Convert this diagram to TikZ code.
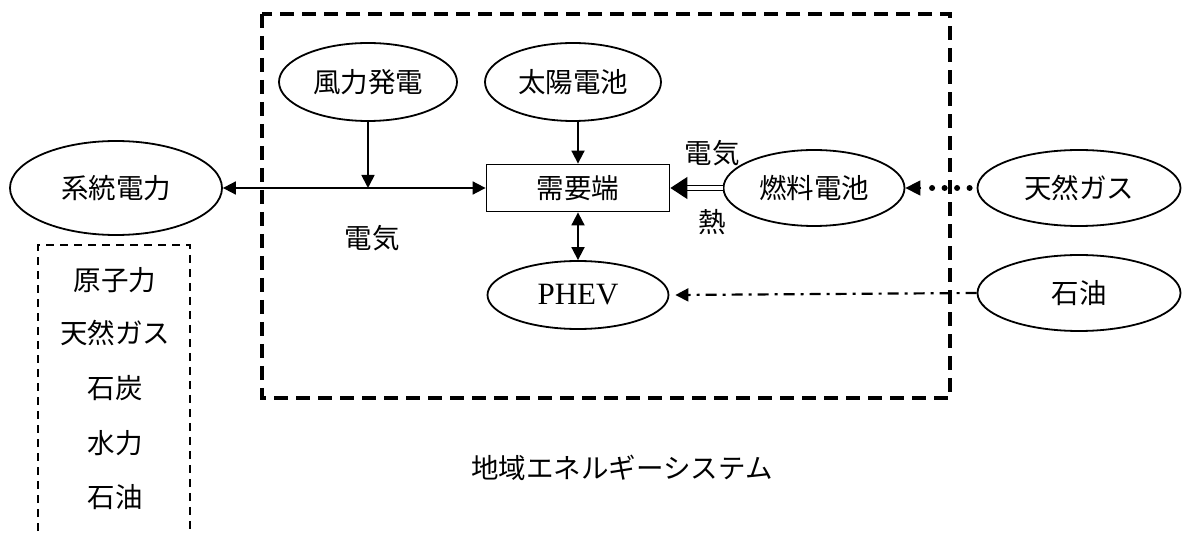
\documentclass[tikz,border=0pt]{standalone}
\usepackage{fontspec}
\setmainfont{Noto Sans CJK JP}
\newfontfamily\latinserif{Liberation Serif}
\usetikzlibrary{arrows.meta,shapes.geometric}
\tikzset{
  oval/.style={ellipse,draw,line width=1.8pt,minimum width=#1,minimum height=76pt,inner sep=0pt},
  oval/.default=176pt,
  conn/.style={line width=1.8pt},
  tip/.style={-{Triangle[length=13pt,width=13pt]}},
  lbl/.style={font=\fontsize{27.5}{30}\selectfont},
}
\begin{document}
\begin{tikzpicture}[x=1pt,y=-1pt,font=\fontsize{27.5}{30}\selectfont]
\useasboundingbox (0,0) rectangle (1192,534);
% region box
\draw[line width=3.8pt,dash pattern=on 14pt off 8pt] (262,14) rectangle (950,398);
% left list box
\draw[line width=2.4pt,dash pattern=on 8pt off 6pt] (38,545) -- (38,245) -- (190,245) -- (190,545);
\node[lbl] (l1) at (115,280) {原子力};
\node[lbl] (l2) at (115,333) {天然ガス};
\node[lbl] (l3) at (115,388) {石炭};
\node[lbl] (l4) at (115,443) {水力};
\node[lbl] (l5) at (115,497) {石油};
% nodes
\node[oval=212pt,minimum height=94pt] (grid) at (116,188) {系統電力};
\node[oval=178pt,minimum height=78pt] (wind) at (368,82) {風力発電};
\node[oval=176pt,minimum height=78pt] (solar) at (573,82) {太陽電池};
\node[draw,line width=1.8pt,minimum width=183pt,minimum height=47pt,inner sep=0pt] (demand) at (578,188) {需要端};
\node[oval=181pt,minimum height=76pt] (fc) at (814,188) {燃料電池};
\node[oval=203pt] (gas) at (1079,188) {天然ガス};
\node[oval=181pt,minimum height=68pt] (phev) at (578,295) {\fontsize{31}{34}\selectfont\latinserif PHEV};
\node[oval=203pt] (oil) at (1079,293) {石油};
% labels
\node[lbl] (e1) at (372,238) {電気};
\node[lbl] (e2) at (712,153) {電気};
\node[lbl] (heat) at (712,222) {熱};
\node[lbl] (reg) at (622,468) {地域エネルギーシステム};
% connectors
\coordinate (j) at (368,188);
\draw[conn,{Triangle[length=13pt,width=13pt]}-{Triangle[length=13pt,width=13pt]}] (grid.east) -- (demand.west);
\draw[conn,tip] (wind.south) -- (j);
\draw[conn,tip] (solar.south -| demand.north) -- (demand.north);
\draw[conn,{Triangle[length=13pt,width=13pt]}-{Triangle[length=13pt,width=13pt]}] (demand.south) -- (phev.north);
\draw[line width=1.3pt,double distance=3.5pt,-{Triangle[length=17pt,width=22pt]}] (fc.west) -- (demand.east);
\draw[line width=6pt,dash pattern=on 0pt off 12.5pt,line cap=round] ([xshift=-7pt]gas.west) -- ([xshift=20pt]fc.east);
\draw[line width=1.5pt,-{Triangle[length=15pt,width=15pt]}] ([xshift=16pt]fc.east) -- (fc.east);
\draw[line width=2.2pt,dash pattern=on 11pt off 6pt on 3pt off 6pt,-{Triangle[length=13pt,width=13pt]}] (oil.west) -- ([xshift=6pt]phev.east);
\end{tikzpicture}
\end{document}
